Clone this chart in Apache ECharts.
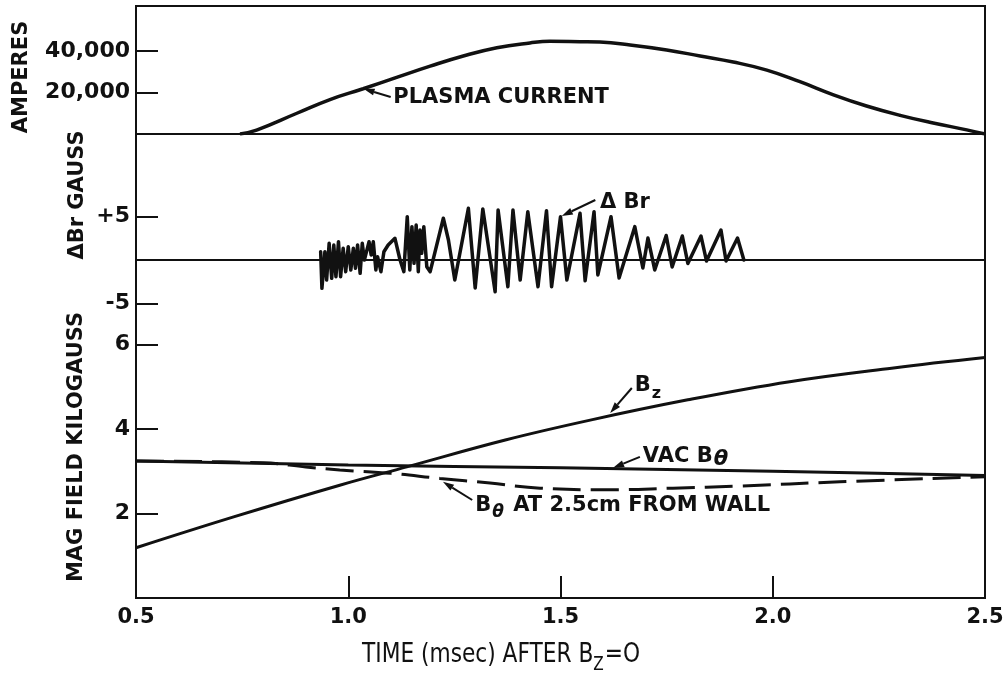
<!DOCTYPE html>
<html><head><meta charset="utf-8">
<script src="https://cdn.jsdelivr.net/npm/echarts@6/dist/echarts.min.js"></script>
<style>html,body{margin:0;padding:0;background:#fff}#c{width:1003px;height:682px}</style>
</head><body><div id="c"></div>
<script>
// ---------- data ----------
const xTicks = [0.5, 1.0, 1.5, 2.0, 2.5];
const ampTicks = [20000, 40000];
const brTicks = [-5, 5];
const magTicks = [2, 4, 6];

const plasmaT = [0.745, 0.784, 0.879, 0.957, 1.035, 1.114, 1.193, 1.271, 1.350, 1.428, 1.475, 1.546, 1.593, 1.664, 1.750, 1.829, 1.907, 1.986, 2.064, 2.143, 2.221, 2.300, 2.378, 2.457, 2.500];
const plasmaA = [0, 1900, 10000, 16600, 21800, 27300, 32700, 37600, 41600, 43900, 44700, 44500, 44300, 42900, 40500, 37600, 34700, 30800, 25200, 18900, 13500, 9000, 5300, 2000, 0];

const brT = [0.935, 0.938, 0.945, 0.949, 0.955, 0.961, 0.966, 0.971, 0.977, 0.982, 0.988, 0.994, 1.000, 1.006, 1.012, 1.017, 1.022, 1.028, 1.033, 1.038, 1.043, 1.049, 1.054, 1.059, 1.065, 1.069, 1.077, 1.084, 1.094, 1.110, 1.122, 1.131, 1.139, 1.145, 1.150, 1.155, 1.160, 1.165, 1.169, 1.173, 1.178, 1.185, 1.193, 1.224, 1.236, 1.251, 1.283, 1.299, 1.317, 1.346, 1.353, 1.376, 1.388, 1.405, 1.423, 1.447, 1.467, 1.479, 1.500, 1.515, 1.546, 1.558, 1.579, 1.588, 1.619, 1.638, 1.675, 1.694, 1.706, 1.722, 1.749, 1.763, 1.787, 1.800, 1.831, 1.844, 1.878, 1.890, 1.917, 1.932];
const brV = [0.96, -3.27, 0.96, -2.31, 1.93, -2.11, 1.73, -1.93, 2.11, -1.93, 1.35, -1.35, 1.54, -1.15, 1.35, -0.96, 1.73, -1.54, 1.93, 0, 0.96, 2.11, 0.58, 2.11, -1.15, 0.38, -1.35, 0.96, 1.73, 2.5, 0, -1.35, 5.0, -1.15, 3.85, -0.38, 4.04, -1.35, 3.46, 0.77, 3.85, -0.77, -1.35, 4.82, 2.31, -2.31, 5.97, -3.23, 5.89, -3.66, 5.77, -3.08, 5.77, -2.31, 5.58, -3.08, 5.69, -3.08, 5.0, -2.31, 5.39, -2.4, 5.58, -1.73, 5.0, -2.08, 3.85, -0.92, 2.54, -1.15, 2.83, -0.81, 2.77, -0.4, 2.77, -0.12, 3.46, -0.12, 2.54, 0];

const bzT = [0.5, 0.73, 0.98, 1.14, 1.37, 1.57, 1.80, 2.04, 2.28, 2.5];
const bzV = [1.19, 1.92, 2.67, 3.11, 3.74, 4.21, 4.69, 5.12, 5.44, 5.69];

const vacT = [0.5, 1.0, 1.5, 2.0, 2.5];
const vacV = [3.24, 3.15, 3.08, 3.0, 2.9];

const wallT = [0.5, 0.8, 0.9, 0.98, 1.10, 1.216, 1.334, 1.452, 1.61, 1.765, 1.923, 2.158, 2.5];
const wallV = [3.24, 3.2, 3.1, 3.03, 2.95, 2.83, 2.72, 2.60, 2.56, 2.60, 2.65, 2.75, 2.87];

// ---------- chart ----------
const INK = '#111';
const FONT = "'DejaVu Sans', sans-serif";
const L = 136, W = 849;
const pairs = (ts, vs) => ts.map((t, i) => [t, vs[i]]);
const tick = vals => ({show: true, inside: true, length: 22, customValues: vals, lineStyle: {color: INK, width: 2}});
const lab = (vals, fmt, margin, size) => ({show: true, customValues: vals, formatter: fmt, color: INK,
  fontFamily: FONT, fontWeight: 'bold', fontSize: size, margin: margin});

function yAx(g, min, max, vals, fmt) {
  return {type: 'value', gridIndex: g, min: min, max: max, axisLine: {show: false},
    splitLine: {show: false}, axisTick: tick(vals), axisLabel: lab(vals, fmt, 6, 22)};
}
function xAx(g, lineShow, onZero) {
  return {type: 'value', gridIndex: g, min: 0.5, max: 2.5, splitLine: {show: false},
    axisLine: {show: lineShow, onZero: onZero, lineStyle: {color: INK, width: 2}},
    axisTick: {show: false}, axisLabel: {show: false}};
}

const grids = [
  {left: L, top: 6, width: W, height: 128},
  {left: L, top: 134, width: W, height: 252},
  {left: L, top: 260, width: W, height: 338},
  {left: L, top: 6, width: W, height: 592, show: true, borderColor: INK, borderWidth: 2, backgroundColor: 'transparent'}
].map(g => Object.assign({outerBoundsMode: 'none', containLabel: false}, g));

const xBottom = {type: 'value', gridIndex: 2, min: 0.5, max: 2.5, splitLine: {show: false},
  axisLine: {show: true, lineStyle: {color: INK, width: 2}},
  axisTick: tick(xTicks),
  axisLabel: Object.assign(lab(xTicks, v => v.toFixed(1), 9, 21), {showMinLabel: true, showMaxLabel: true})};

const chart = echarts.init(document.getElementById('c'));
const lineS = (name, xi, data, extra) => Object.assign({
  name: name, type: 'line', xAxisIndex: xi, yAxisIndex: xi, data: data, showSymbol: false,
  symbol: 'none', animation: false, lineStyle: {color: INK, width: 3}, z: 5}, extra || {});

chart.setOption({
  animation: false,
  backgroundColor: '#fff',
  grid: grids,
  xAxis: [xAx(0, true, false), xAx(1, true, true), xBottom,
          {type: 'value', gridIndex: 3, min: 0, max: 1, show: false}],
  yAxis: [
    yAx(0, 0, 61700, ampTicks, v => v.toLocaleString('en-US')),
    yAx(1, -14.55, 14.55, brTicks, v => (v > 0 ? '+' + v : '-' + Math.abs(v))),
    yAx(2, 0, 8, magTicks, v => String(v)),
    {type: 'value', gridIndex: 3, min: 0, max: 1, show: false}
  ],
  series: [
    lineS('Plasma current', 0, pairs(plasmaT, plasmaA), {smooth: 0.45, lineStyle: {color: INK, width: 3.5}}),
    lineS('ΔBr', 1, pairs(brT, brV), {lineStyle: {color: INK, width: 3.5, join: 'round', cap: 'round'}}),
    lineS('Bz', 2, pairs(bzT, bzV), {smooth: 0.4}),
    lineS('VAC Bθ', 2, pairs(vacT, vacV), {smooth: 0.3}),
    lineS('Bθ at 2.5 cm', 2, pairs(wallT, wallV), {smooth: 0.4, lineStyle: {color: INK, width: 3, type: [28, 10]}})
  ]
});

// ---------- annotations ----------
const ctx = document.createElement('canvas').getContext('2d');
const measure = (font, s) => { ctx.font = font; return ctx.measureText(s).width; };
const BOLD = "bold 21px 'DejaVu Sans'";
const P = (g, t, v) => chart.convertToPixel({gridIndex: g}, [t, v]);
const els = [];
function txt(x, y, s, font, list) {
  (list || els).push({type: 'text', x: x, y: y, z: 20,
    style: {text: s, font: font, fill: INK, align: 'left', verticalAlign: 'middle'}});
  return x + measure(font, s);
}
function arrow(g, tail, tip) {
  const a = P(g, tail[0], tail[1]), b = P(g, tip[0], tip[1]);
  const dx = b[0] - a[0], dy = b[1] - a[1], len = Math.hypot(dx, dy), ux = dx / len, uy = dy / len;
  const hl = 11, hw = 3.5;
  const bx = b[0] - ux * hl, by = b[1] - uy * hl;
  els.push({type: 'line', z: 20, shape: {x1: a[0], y1: a[1], x2: bx, y2: by}, style: {stroke: INK, lineWidth: 2}});
  els.push({type: 'polygon', z: 20, shape: {points: [[b[0], b[1]], [bx - uy * hw, by + ux * hw], [bx + uy * hw, by - ux * hw]]}, style: {fill: INK}});
}
function vname(x, y, s) {
  els.push({type: 'text', x: x, y: y, rotation: Math.PI / 2, z: 20,
    style: {text: s, font: BOLD, fill: INK, align: 'center', verticalAlign: 'middle'}});
}
// axis names
vname(22, 77, 'AMPERES');
vname(78, 195, 'ΔBr GAUSS');
vname(77, 447, 'MAG FIELD KILOGAUSS');

// plasma current
arrow(0, [1.100, 17800], [1.036, 21800]);
let p = P(0, 1.106, 17400); txt(p[0], p[1], 'PLASMA CURRENT', BOLD);
// delta Br
arrow(1, [1.582, 6.93], [1.503, 5.08]);
p = P(1, 1.593, 6.58); txt(p[0], p[1], 'Δ Br', BOLD);
// Bz
arrow(2, [1.668, 4.97], [1.617, 4.38]);
p = P(2, 1.675, 5.04); let nx = txt(p[0], p[1], 'B', BOLD); txt(nx + 1, p[1] + 9, 'z', "bold 16px 'DejaVu Sans'");
// VAC B theta
arrow(2, [1.687, 3.34], [1.624, 3.08]);
p = P(2, 1.694, 3.34); nx = txt(p[0], p[1], 'VAC B', BOLD); txt(nx + 1, p[1] + 3, 'θ', "italic bold 21px 'DejaVu Sans'");
// B theta at wall
arrow(2, [1.292, 2.32], [1.223, 2.75]);
p = P(2, 1.299, 2.20); nx = txt(p[0], p[1], 'B', BOLD);
nx = txt(nx + 1, p[1] + 8, 'θ', "italic bold 17px 'DejaVu Sans'");
txt(nx + 2, p[1], ' AT 2.5cm FROM WALL', BOLD);
// x axis title, squeezed horizontally to the reference width
const TF = "27px 'Liberation Sans Narrow', 'DejaVu Sans Condensed', sans-serif";
const SF = "19px 'Liberation Sans Narrow', 'DejaVu Sans Condensed', sans-serif";
const kids = [];
nx = txt(0, 0, 'TIME (msec) AFTER B', TF, kids);
nx = txt(nx, 10, 'Z', SF, kids);
nx = txt(nx + 1, 0, '=O', TF, kids);
els.push({type: 'group', x: 362, y: 655, scaleX: 278 / nx, children: kids});

chart.setOption({graphic: {elements: els}});
</script></body></html>
